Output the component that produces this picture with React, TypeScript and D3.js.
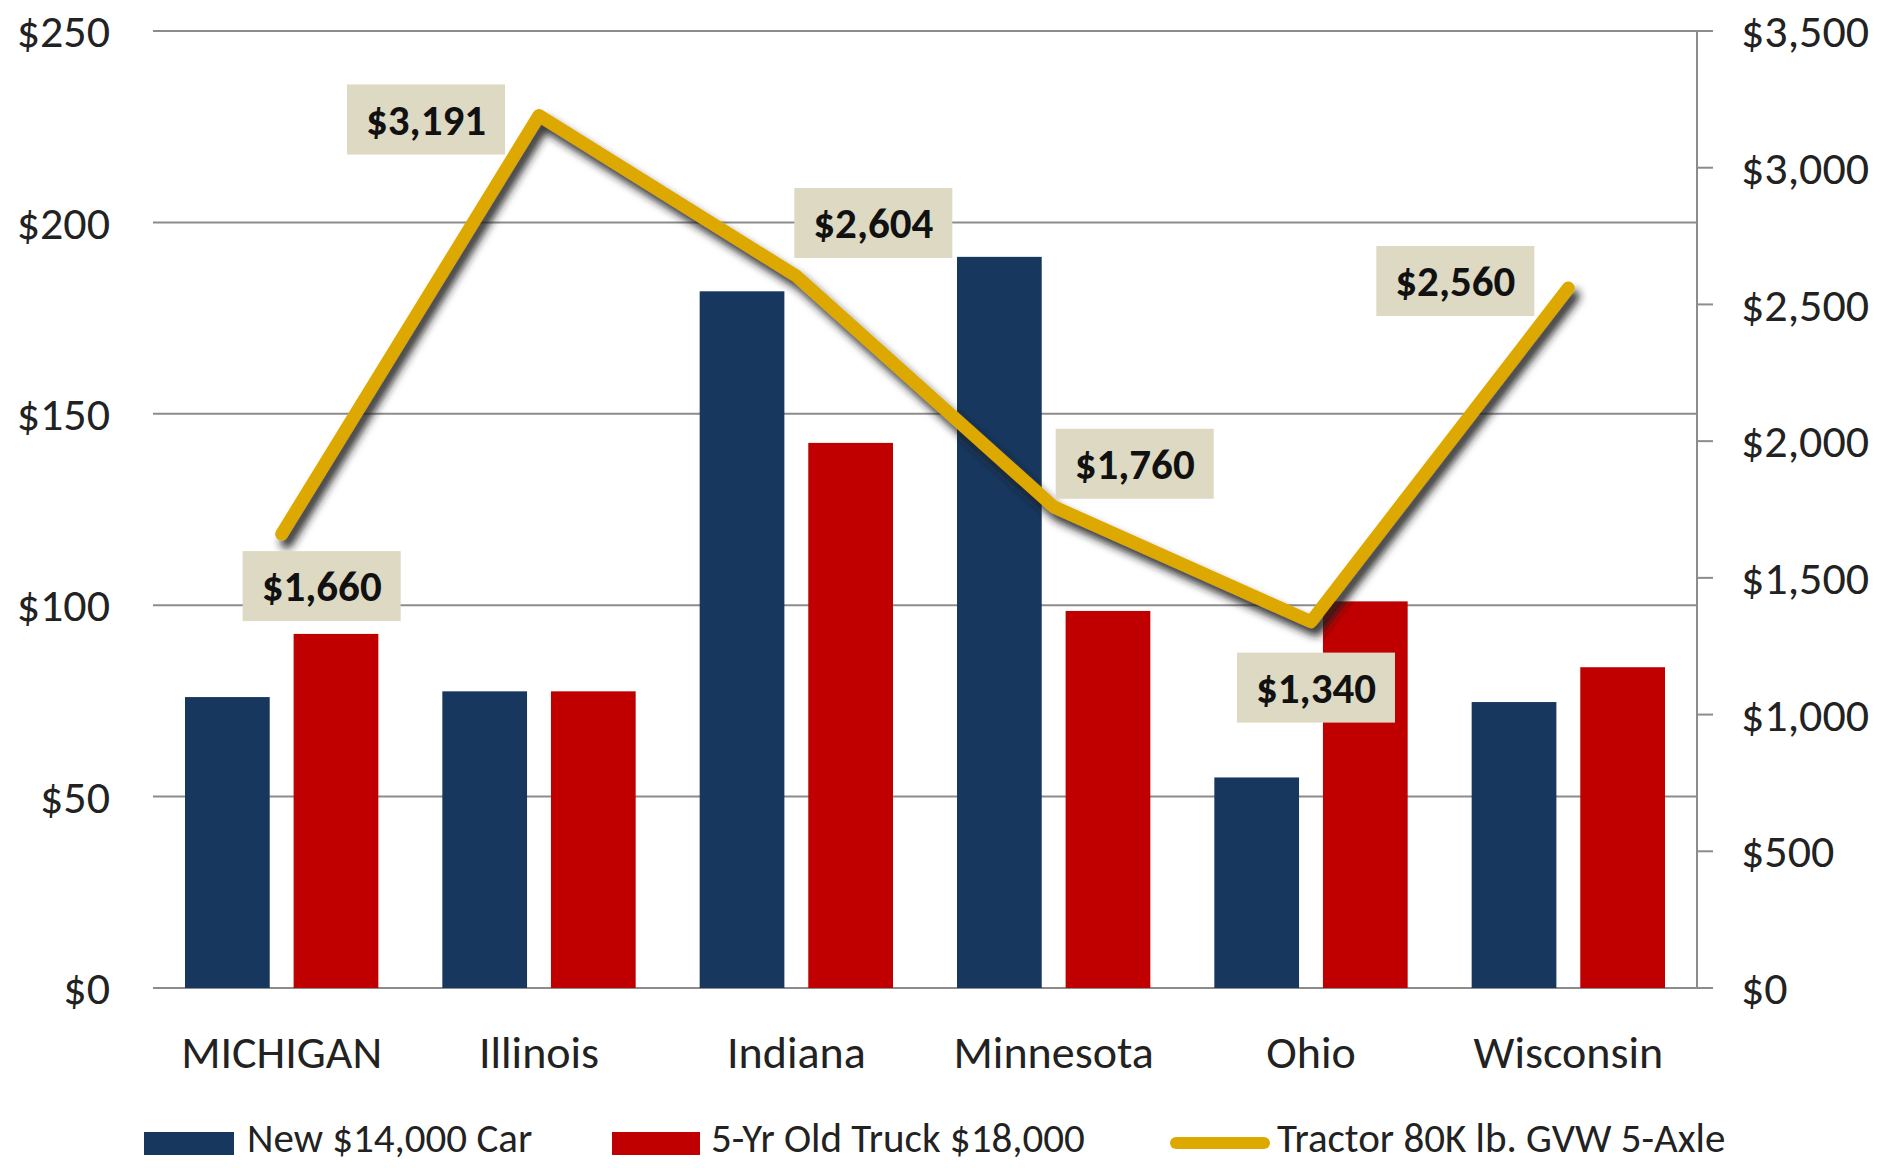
import React from "react";
import * as d3 from "d3";

// chart data
const states = ["MICHIGAN", "Illinois", "Indiana", "Minnesota", "Ohio", "Wisconsin"];
const seriesNames = ["New $14,000 Car", "5-Yr Old Truck $18,000"];
const newCar = [76, 77.5, 182, 191, 55, 74.7];
const oldTruck = [92.5, 77.5, 142.4, 98.5, 101, 83.8];
const tractor = [1660, 3191, 2604, 1760, 1340, 2560];
const tractorName = "Tractor 80K lb. GVW 5-Axle";
const leftTicks = [0, 50, 100, 150, 200, 250];
const rightTicks = [0, 500, 1000, 1500, 2000, 2500, 3000, 3500];
// label box offsets from each line point
const labelOffsets: [number, number][] = [
  [40, 52],
  [-113, 4],
  [77, -53],
  [81, -43],
  [5, 66],
  [-113, -7],
];

const W = 1883;
const H = 1168;
const left = 153;
const right = 1697;
const top = 31;
const bottom = 988;

const barColors = ["#17375E", "#C00000"];
const lineColor = "#DDA900";
const gridColor = "#8C8C8C";
const font = "Carlito, Calibri, 'Liberation Sans Narrow', 'DejaVu Sans Condensed', sans-serif";

const App: React.FC = () => {
  const x0 = d3.scaleBand<string>().domain(states).range([left, right]).padding(0);
  const bandPad = 32;
  const x1 = d3
    .scaleBand<number>()
    .domain([0, 1])
    .range([bandPad, x0.bandwidth() - bandPad])
    .paddingInner(0.22);
  const yL = d3.scaleLinear().domain([0, 250]).range([bottom, top]);
  const yR = d3.scaleLinear().domain([0, 3500]).range([bottom, top]);

  const line = d3
    .line<number>()
    .x((_, i) => x0(states[i])! + x0.bandwidth() / 2)
    .y((d) => yR(d));

  const fmt = d3.format("$,.0f");
  const series = [newCar, oldTruck];

  return (
    <svg
      width={W}
      height={H}
      style={{ position: "absolute", left: 0, top: 0, background: "#fff" }}
      fontFamily={font}
    >
      <defs>
        <filter id="shadow" x="-10%" y="-10%" width="120%" height="130%">
          <feDropShadow dx="5" dy="8" stdDeviation="4" floodColor="#1a1a1a" floodOpacity="0.9" />
        </filter>
      </defs>

      {/* gridlines */}
      {leftTicks.map((t) => (
        <line key={t} x1={left} x2={right} y1={yL(t)} y2={yL(t)} stroke={gridColor} strokeWidth={2} />
      ))}

      {/* right axis */}
      <line x1={right} x2={right} y1={top} y2={bottom} stroke={gridColor} strokeWidth={2} />
      {rightTicks.map((t) => (
        <line key={t} x1={right} x2={right + 16} y1={yR(t)} y2={yR(t)} stroke={gridColor} strokeWidth={2} />
      ))}

      {/* left labels */}
      {leftTicks.map((t) => (
        <text key={t} x={110} y={yL(t)} dy="0.35em" textAnchor="end" fontSize={46} fill="#222">
          {fmt(t)}
        </text>
      ))}
      {rightTicks.map((t) => (
        <text key={t} x={1741} y={yR(t)} dy="0.35em" textAnchor="start" fontSize={46} fill="#222">
          {fmt(t)}
        </text>
      ))}

      {/* bars */}
      {series.map((vals, s) =>
        vals.map((v, i) => (
          <rect
            key={`${s}-${i}`}
            x={x0(states[i])! + x1(s)!}
            y={yL(v)}
            width={x1.bandwidth()}
            height={yL(0) - yL(v)}
            fill={barColors[s]}
          />
        ))
      )}

      {/* category labels */}
      {states.map((st) => (
        <text key={st} x={x0(st)! + x0.bandwidth() / 2} y={1068} textAnchor="middle" fontSize={46} fill="#222">
          {st}
        </text>
      ))}

      {/* tractor line */}
      <path
        d={line(tractor) || ""}
        fill="none"
        stroke={lineColor}
        strokeWidth={13}
        strokeLinejoin="round"
        strokeLinecap="round"
        filter="url(#shadow)"
      />

      {/* data labels */}
      {tractor.map((v, i) => {
        const cx = x0(states[i])! + x0.bandwidth() / 2 + labelOffsets[i][0];
        const cy = yR(v) + labelOffsets[i][1];
        return (
          <g key={i}>
            <rect x={cx - 79} y={cy - 35} width={158} height={70} fill="#DDD9C3" />
            <text x={cx} y={cy} dy="0.35em" textAnchor="middle" fontSize={43} fontWeight="bold" fill="#111">
              {fmt(v)}
            </text>
          </g>
        );
      })}

      {/* legend */}
      <g fontSize={41} fill="#222">
        <rect x={144} y={1132} width={90} height={23} fill={barColors[0]} />
        <text x={247} y={1138} dy="0.35em">{seriesNames[0]}</text>
        <rect x={612} y={1132} width={88} height={23} fill={barColors[1]} />
        <text x={711} y={1138} dy="0.35em">{seriesNames[1]}</text>
        <line x1={1176} x2={1264} y1={1143} y2={1143} stroke={lineColor} strokeWidth={12} strokeLinecap="round" />
        <text x={1277} y={1138} dy="0.35em">{tractorName}</text>
      </g>
    </svg>
  );
};

export default App;
